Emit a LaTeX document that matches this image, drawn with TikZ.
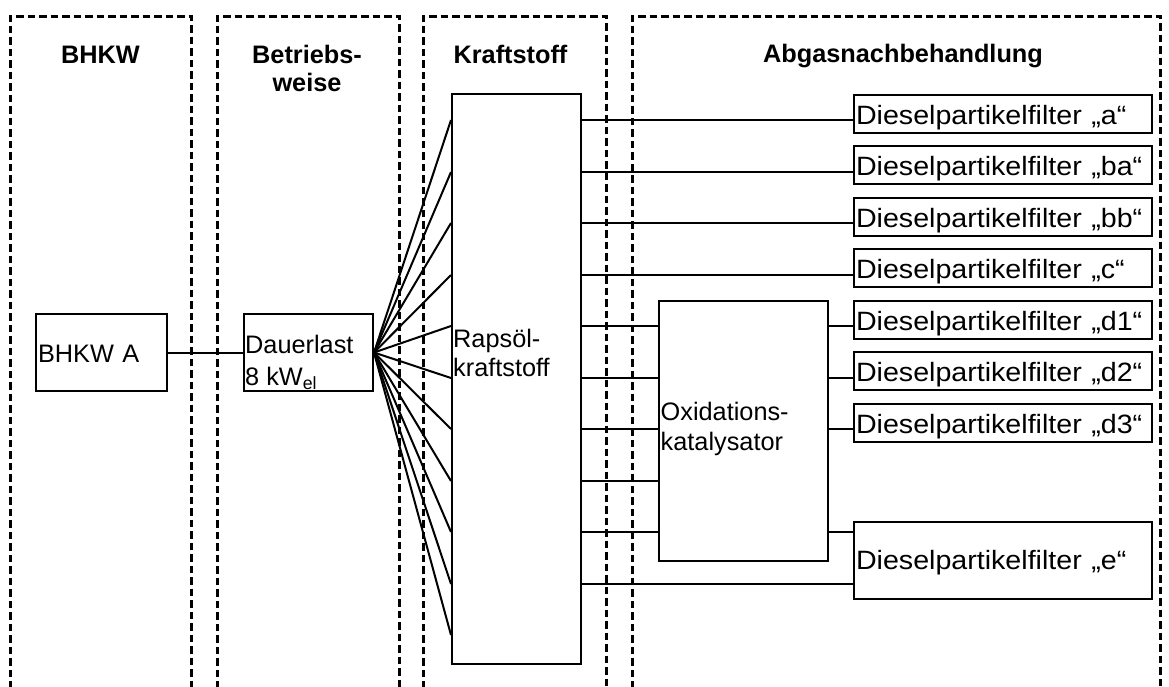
\documentclass[tikz,border=0pt]{standalone}
\usepackage{fontspec}
\usepackage{graphicx}
\setmainfont{Liberation Sans}
\usetikzlibrary{calc}
% filter labels are set slightly wider than the rest of the text
\newcommand\widetext[1]{\scalebox{1.08}[1]{#1}}
\begin{document}
\begin{tikzpicture}[x=1pt,y=-1pt,
  frame/.style={line width=3pt, dash pattern=on 7.5pt off 4pt},
  blk/.style={draw, line width=2pt, inner sep=0pt, anchor=north west},
  conn/.style={line width=2pt},
  title/.style={font=\bfseries\fontsize{25.3}{28}\selectfont, anchor=base, inner sep=0pt},
  txt/.style={font=\fontsize{25.3}{29}\selectfont, anchor=base west, inner sep=0pt},
  fbox/.style={blk, minimum width=298pt, minimum height=38pt,
    font=\fontsize{26.5}{29}\selectfont, text width=294pt, align=left,
    inner xsep=2pt, text height=25pt, text depth=5pt}
]
\useasboundingbox (0,0) rectangle (1169,686);

% column frames, open at the bottom
\draw[frame] (10,700) -- (10,16) -- (191,16) -- (191,700);
\draw[frame] (217,700) -- (217,16) -- (399,16) -- (399,700);
\draw[frame] (423,700) -- (423,16) -- (606,16) -- (606,700);
\draw[frame] (632,700) -- (632,16) -- (1160,16) -- (1160,700);

% column titles
\node[title] (tBHKW) at (100.5,63) {BHKW};
\node[title] (tBetr1) at (307,63) {Betriebs-};
\node[title] (tBetr2) at (307,91) {weise};
\node[title] (tKraft) at (510.5,63) {Kraftstoff};
\node[title] (tAbgas) at (903,62) {Abgasnachbehandlung};

% blocks
\node[blk, minimum width=131pt, minimum height=77pt, text width=127pt, align=left,
  inner xsep=2pt, font=\fontsize{25.3}{29}\selectfont, text height=25.1pt, text depth=5pt]
  (bhkw) at (35,313) {BHKW A};
\node[blk, minimum width=129pt, minimum height=77pt] (dl) at (243,313) {};
\node[txt] (dlA) at ($(dl.north west)+(2,40.3)$) {Dauerlast};
\node[txt] (dlB) at ($(dl.north west)+(2,72)$) {8 kW\textsubscript{el}};

\node[blk, minimum width=129pt, minimum height=570pt] (rap) at (451,93) {};
\node[txt] (rapA) at ($(rap.north west)+(2,254)$) {Rapsöl-};
\node[txt] (rapB) at ($(rap.north west)+(2,283)$) {kraftstoff};

\node[blk, minimum width=169pt, minimum height=260pt] (oxi) at (658,300) {};
\node[txt] (oxiA) at ($(oxi.north west)+(2.5,120)$) {Oxidations-};
\node[txt] (oxiB) at ($(oxi.north west)+(2.5,150)$) {katalysator};

% row heights of the connectors
\foreach \k/\y in {0/120,1/172,2/223,3/275,4/326,5/378,6/429,7/481,8/532,9/584,10/635}
  \coordinate (r\k) at (0,\y);

% filter blocks
\node[fbox] (fa)  at (853,94)  {\widetext{Dieselpartikelfilter „a“}};
\node[fbox] (fba) at (853,145) {\widetext{Dieselpartikelfilter „ba“}};
\node[fbox] (fbb) at (853,197) {\widetext{Dieselpartikelfilter „bb“}};
\node[fbox] (fc)  at (853,248) {\widetext{Dieselpartikelfilter „c“}};
\node[fbox] (fd1) at (853,300) {\widetext{Dieselpartikelfilter „d1“}};
\node[fbox] (fd2) at (853,351) {\widetext{Dieselpartikelfilter „d2“}};
\node[fbox] (fd3) at (853,403) {\widetext{Dieselpartikelfilter „d3“}};
\node[fbox, minimum height=77pt, text height=23pt, text depth=5pt] (fe) at (853,521)
  {\widetext{Dieselpartikelfilter „e“}};

% connectors
\draw[conn] (bhkw.east) -- (dl.west);
\foreach \k in {0,...,10} \draw[conn] (dl.east) -- (rap.west |- r\k);

\draw[conn] (rap.east |- r0) -- (fa.west |- r0);
\draw[conn] (rap.east |- r1) -- (fba.west |- r1);
\draw[conn] (rap.east |- r2) -- (fbb.west |- r2);
\draw[conn] (rap.east |- r3) -- (fc.west |- r3);
\foreach \k in {4,...,8} \draw[conn] (rap.east |- r\k) -- (oxi.west |- r\k);
\draw[conn] (oxi.east |- r4) -- (fd1.west |- r4);
\draw[conn] (oxi.east |- r5) -- (fd2.west |- r5);
\draw[conn] (oxi.east |- r6) -- (fd3.west |- r6);
\draw[conn] (oxi.east |- r8) -- (fe.west |- r8);
\draw[conn] (rap.east |- r9) -- (fe.west |- r9);
\end{tikzpicture}
\end{document}
